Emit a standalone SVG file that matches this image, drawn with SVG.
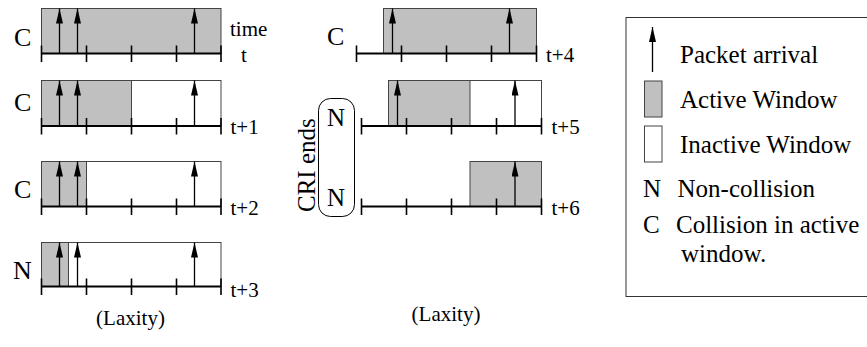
<svg xmlns="http://www.w3.org/2000/svg" width="867" height="347" viewBox="0 0 867 347">
<style>
text{font-family:"Liberation Serif","Times New Roman",serif;fill:#000}
.big{font-size:26px}
.lab{font-size:21px}
.leg{font-size:25px}
.act{fill:#c0c0c0;stroke:#444;stroke-width:1}
.ina{fill:#fff;stroke:#444;stroke-width:1}
.axis{stroke:#000;stroke-width:2;fill:none}
.tick{stroke:#000;stroke-width:1.6}
.arr{stroke:#000;stroke-width:1.3;marker-end:url(#ah)}
</style>
<defs>
<marker id="ah" viewBox="0 0 15 7" refX="15" refY="3.5" markerWidth="15" markerHeight="7" markerUnits="userSpaceOnUse" orient="auto">
<path d="M0,0 L15,3.5 L0,7 Z" fill="#000"/>
</marker>
</defs>
<rect width="867" height="347" fill="#fff"/>

<!-- Left panel -->
<g id="row-t">
<rect class="act" x="41.5" y="8.5" width="179.5" height="45"/>
<line class="axis" x1="41.5" y1="53.5" x2="221" y2="53.5"/>
<path class="tick" d="M41.5,45.5V62M86.5,45.5V62M131.5,45.5V62M176.5,45.5V62M221,45.5V62"/>
<line class="arr" x1="59.5" y1="53.5" x2="59.5" y2="8.5"/>
<line class="arr" x1="77.5" y1="53.5" x2="77.5" y2="8.5"/>
<line class="arr" x1="194.5" y1="53.5" x2="194.5" y2="8.5"/>
<text class="big" x="14" y="46">C</text>
<text class="lab" x="230" y="36">time</text>
<text class="lab" x="241" y="62">t</text>
</g>

<g id="row-t1">
<rect class="ina" x="41.5" y="80.5" width="179.5" height="45.5"/>
<rect class="act" x="41.5" y="80.5" width="90" height="45.5"/>
<line class="axis" x1="41.5" y1="126" x2="221" y2="126"/>
<path class="tick" d="M41.5,118V134.5M86.5,118V134.5M131.5,118V134.5M176.5,118V134.5M221,118V134.5"/>
<line class="arr" x1="59.5" y1="126" x2="59.5" y2="80.5"/>
<line class="arr" x1="77.5" y1="126" x2="77.5" y2="80.5"/>
<line class="arr" x1="194.5" y1="126" x2="194.5" y2="80.5"/>
<text class="big" x="14" y="111">C</text>
<text class="lab" x="230.5" y="134">t+1</text>
</g>

<g id="row-t2">
<rect class="ina" x="41.5" y="161.5" width="179.5" height="45"/>
<rect class="act" x="41.5" y="161.5" width="45" height="45"/>
<line class="axis" x1="41.5" y1="206.5" x2="221" y2="206.5"/>
<path class="tick" d="M41.5,198.5V215M86.5,198.5V215M131.5,198.5V215M176.5,198.5V215M221,198.5V215"/>
<line class="arr" x1="59.5" y1="206.5" x2="59.5" y2="161.5"/>
<line class="arr" x1="77.5" y1="206.5" x2="77.5" y2="161.5"/>
<line class="arr" x1="194.5" y1="206.5" x2="194.5" y2="161.5"/>
<text class="big" x="14" y="198">C</text>
<text class="lab" x="230.5" y="215">t+2</text>
</g>

<g id="row-t3">
<rect class="ina" x="41.5" y="242.5" width="179.5" height="44"/>
<rect class="act" x="41.5" y="242.5" width="27" height="44"/>
<line class="axis" x1="41.5" y1="286.5" x2="221" y2="286.5"/>
<path class="tick" d="M41.5,278.5V295M86.5,278.5V295M131.5,278.5V295M176.5,278.5V295M221,278.5V295"/>
<line class="arr" x1="59.5" y1="286.5" x2="59.5" y2="242.5"/>
<line class="arr" x1="77.5" y1="286.5" x2="77.5" y2="242.5"/>
<line class="arr" x1="194.5" y1="286.5" x2="194.5" y2="242.5"/>
<text class="big" x="13" y="278.5">N</text>
<text class="lab" x="230.5" y="296.5">t+3</text>
</g>

<text id="laxity-left" class="lab" x="130.5" y="325" text-anchor="middle">(Laxity)</text>

<!-- Middle panel -->
<g id="row-t4">
<rect class="act" x="383.5" y="8.5" width="153" height="45"/>
<line class="axis" x1="356.5" y1="53.5" x2="536.5" y2="53.5"/>
<path class="tick" d="M356.5,45.5V62M401.5,45.5V62M446.5,45.5V62M491.5,45.5V62M536.5,45.5V62"/>
<line class="arr" x1="392.5" y1="53.5" x2="392.5" y2="8.5"/>
<line class="arr" x1="509.5" y1="53.5" x2="509.5" y2="8.5"/>
<text class="big" x="327" y="45">C</text>
<text class="lab" x="546" y="62">t+4</text>
</g>

<g id="row-t5">
<rect class="ina" x="388.5" y="80.5" width="153" height="45.5"/>
<rect class="act" x="388.5" y="80.5" width="81.5" height="45.5"/>
<line class="axis" x1="361.5" y1="126" x2="541.5" y2="126"/>
<path class="tick" d="M361.5,118V134.5M406.5,118V134.5M451.5,118V134.5M496.5,118V134.5M541.5,118V134.5"/>
<line class="arr" x1="397.5" y1="126" x2="397.5" y2="80.5"/>
<line class="arr" x1="515" y1="126" x2="515" y2="80.5"/>
<text class="lab" x="551.5" y="134">t+5</text>
</g>

<g id="row-t6">
<rect class="act" x="470" y="161.5" width="71.5" height="45"/>
<line class="axis" x1="361.5" y1="206.5" x2="541.5" y2="206.5"/>
<path class="tick" d="M361.5,198.5V215M406.5,198.5V215M451.5,198.5V215M496.5,198.5V215M541.5,198.5V215"/>
<line class="arr" x1="515" y1="206.5" x2="515" y2="161.5"/>
<text class="lab" x="551.5" y="215">t+6</text>
</g>

<g id="cri-ends">
<rect x="318.5" y="98.5" width="36" height="118" rx="12" ry="12" fill="none" stroke="#000" stroke-width="1"/>
<text class="leg" transform="translate(314.5,212) rotate(-90)">CRI ends</text>
<text class="leg" x="327" y="125.5">N</text>
<text class="leg" x="327" y="206">N</text>
</g>

<text id="laxity-mid" class="lab" x="446" y="321" text-anchor="middle">(Laxity)</text>

<!-- Legend -->
<g id="legend">
<rect x="626" y="17.5" width="250" height="279" fill="#fff" stroke="#333" stroke-width="1"/>
<line class="arr" x1="652.5" y1="72" x2="652.5" y2="27"/>
<text class="leg" x="680" y="63">Packet arrival</text>
<rect class="act" x="644.5" y="81" width="17.5" height="36"/>
<text class="leg" x="680" y="108">Active Window</text>
<rect class="ina" x="644.5" y="126" width="17.5" height="36"/>
<text class="leg" x="680" y="153">Inactive Window</text>
<text class="leg" x="643" y="197">N</text>
<text class="leg" x="677.5" y="197">Non-collision</text>
<text class="leg" x="643" y="233">C</text>
<text class="leg" x="676" y="233">Collision in active</text>
<text class="leg" x="681" y="262">window.</text>
</g>
</svg>
